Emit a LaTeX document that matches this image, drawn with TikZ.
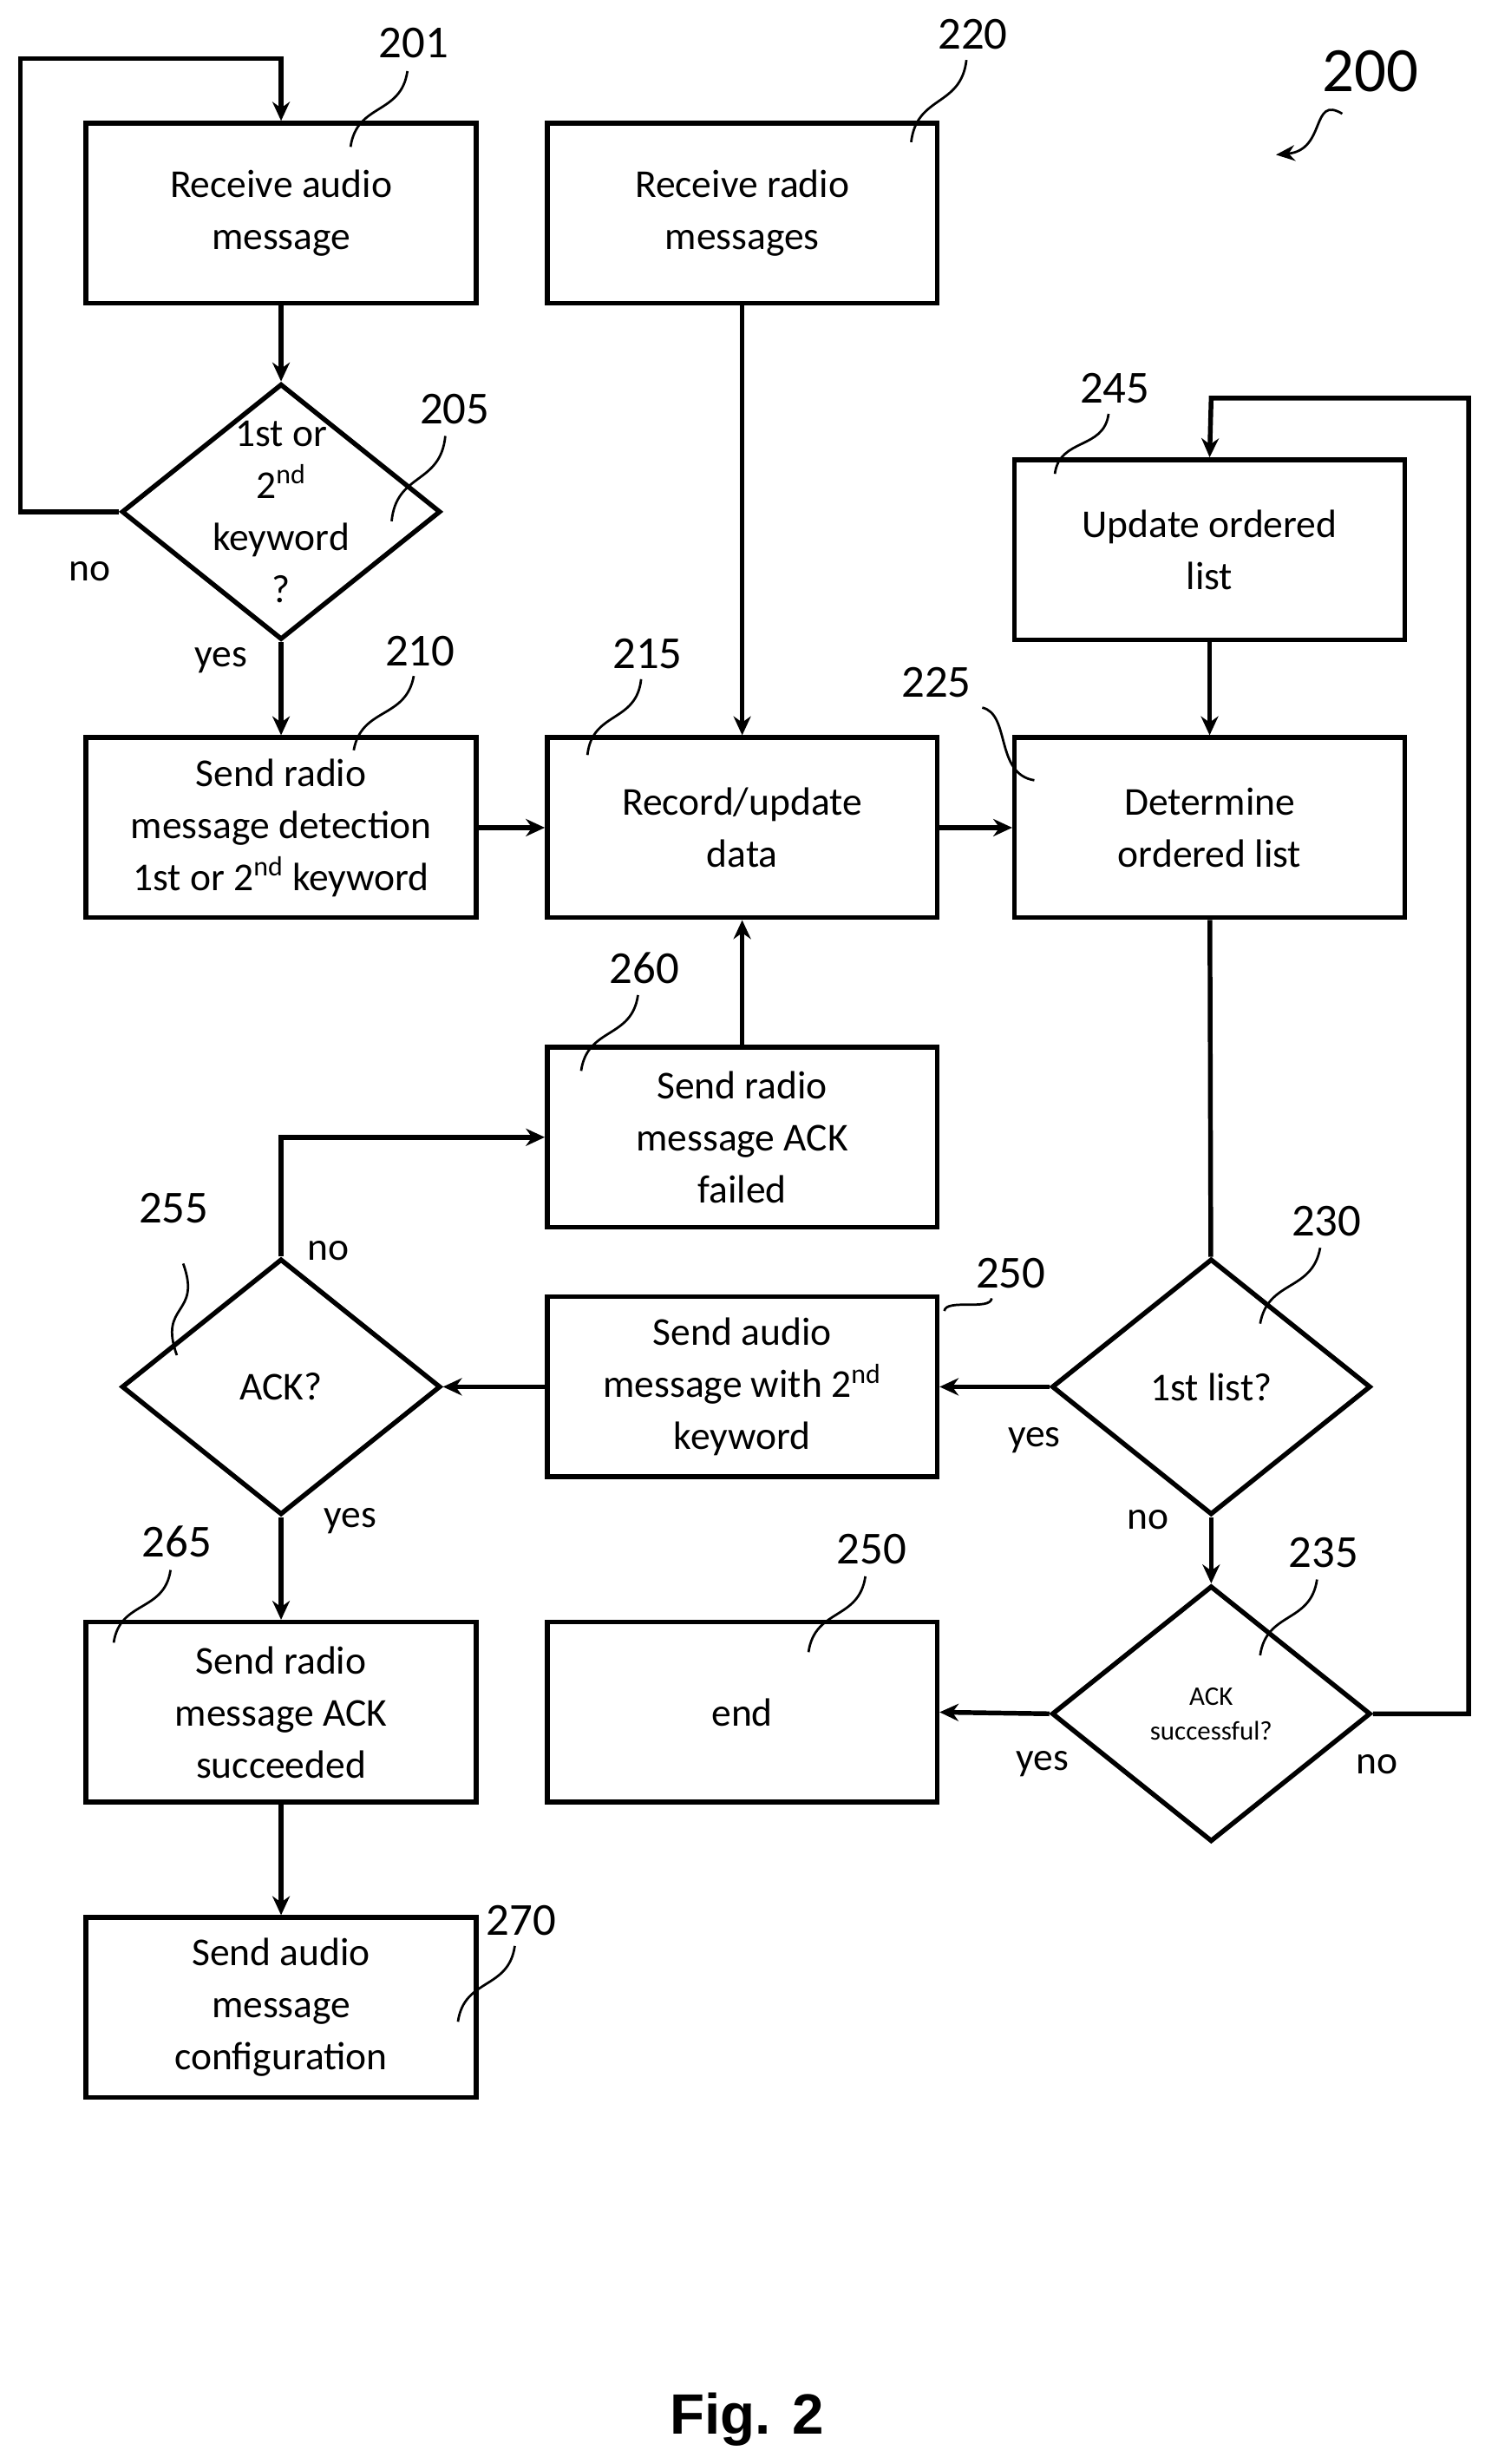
\documentclass[tikz,border=0pt]{standalone}
\usepackage{fontspec}
\setmainfont{Carlito}
\newfontfamily\arialf{Liberation Sans}
\usetikzlibrary{shapes.geometric,arrows.meta,calc}
\begin{document}
\begin{tikzpicture}[x=1pt,y=-1pt,
  box/.style={draw,line width=3pt,minimum width=247pt,minimum height=114pt,align=center,font=\fontsize{25}{33}\selectfont},
  dia/.style={draw,diamond,line width=3pt,minimum width=202pt,minimum height=162pt,inner sep=0pt},
  txt/.style={align=center,font=\fontsize{25}{33}\selectfont},
  num/.style={font=\fontsize{29}{33}\selectfont},
  arr/.style={line width=3pt,-{Stealth[length=12pt,width=11pt]}},
  ln/.style={line width=3pt},
  sq/.style={line width=1.5pt}]
\useasboundingbox (0,0) rectangle (940,1560);
\node[box] (b201) at (178,135) {Receive audio\\message};
\node[box] (b220) at (470,135) {Receive radio\\messages};
\node[dia] (d205) at (178,324) {};
\node[txt] at (178,324) {1st or\\2\textsuperscript{nd}\\keyword\\?};
\node[box] (b210) at (178,524) {Send radio\\message detection\\1st or 2\textsuperscript{nd} keyword};
\node[box] (b215) at (470,524) {Record/update\\data};
\node[box] (b225) at (766,524) {Determine\\ordered list};
\node[box] (b245) at (766,348) {Update ordered\\list};
\node[box] (b260) at (470,720) {Send radio\\message ACK\\failed};
\node[dia] (d255) at (178,878) {};
\node[txt] at (178,878) {ACK?};
\node[box] (b250) at (470,878) {Send audio\\message with 2\textsuperscript{nd}\\keyword};
\node[dia] (d230) at (767,878) {};
\node[txt] at (767,878) {1st list?};
\node[dia] (d235) at (767,1085) {};
\node[align=center,font=\fontsize{17}{22}\selectfont] at (767,1085) {ACK\\successful?};
\node[box] (bend) at (470,1084) {end};
\node[box] (b265) at (178,1084) {Send radio\\message ACK\\succeeded};
\node[box] (b270) at (178,1271) {Send audio\\message\\configuration};

\draw[arr] (b201) -- (d205);
\draw[arr] (d205.west) -- (13,324) -- (13,37) -- (178,37) -- (b201.north);
\draw[arr] (d205) -- (b210);
\draw[arr] (b220) -- (b215);
\draw[arr] (b210) -- (b215);
\draw[arr] (b215) -- (b225);
\draw[arr] (b245) -- (b225);
\draw[ln] (b225) -- (d230);
\draw[arr] (d230.west) -- (b250.east);
\draw[arr] (b250.west) -- (d255.east);
\draw[arr] (d255.north) -- (178,720) -- (b260.west);
\draw[arr] (b260) -- (b215);
\draw[arr] (d255) -- (b265);
\draw[arr] (d230) -- (d235);
\draw[arr] (d235.west) -- (bend.east);
\draw[arr] (d235.east) -- (930,1085) -- (930,252) -- (767,252) -- (b245.north);
\draw[arr] (b265) -- (b270);

\node[txt] at (57,362) {no};
\node[txt] at (140,418) {yes};
\node[txt] at (208,792) {no};
\node[txt] at (222,963) {yes};
\node[txt] at (655,912) {yes};
\node[txt] at (727,962) {no};
\node[txt] at (660,1117) {yes};
\node[txt] at (872,1117) {no};

\foreach \t/\lx/\ly/\ax/\ay/\bx/\by in {201/262/27/258/45/222/93, 205/288/259/282/276/248/330, 210/266/412/262/428/224/475,
 215/410/414/406/430/372/478, 220/616/22/612/38/577/90, 245/706/246/702/262/668/300, 260/408/613/404/630/368/678,
 255/110/765/116/800/112/858, 250/640/806/628/822/598/830, 230/840/773/836/790/798/838, 250/552/981/548/998/512/1046,
 235/838/983/834/1000/798/1048, 265/112/976/108/994/72/1040, 270/330/1216/326/1232/290/1280}{
  \node[num] (n\t) at (\lx,\ly) {\t};
  \coordinate (p) at (\ax,\ay); \coordinate (q) at (\bx,\by);
  \draw[sq] (p) .. controls ($(p)!.5!(q)+(14,4)$) and ($(p)!.5!(q)+(-14,-4)$) .. (q);
}
\node[num] (n225) at (593,432) {225};
\coordinate (r1) at (622,448); \coordinate (r2) at (655,494);
\draw[sq] (r1) .. controls (640,452) and (630,490) .. (r2);
\node[font=\fontsize{40}{44}\selectfont] (n200) at (868,45) {200};
\coordinate (s1) at (850,72); \coordinate (s2) at (808,98);
\draw[sq,-{Stealth[length=12pt,width=10pt]}] (s1) .. controls (830,60) and (840,95) .. (s2);
\node[font=\arialf\bfseries\fontsize{36}{40}\selectfont] (fig) at (473,1532) {Fig. 2};
\end{tikzpicture}
\end{document}
